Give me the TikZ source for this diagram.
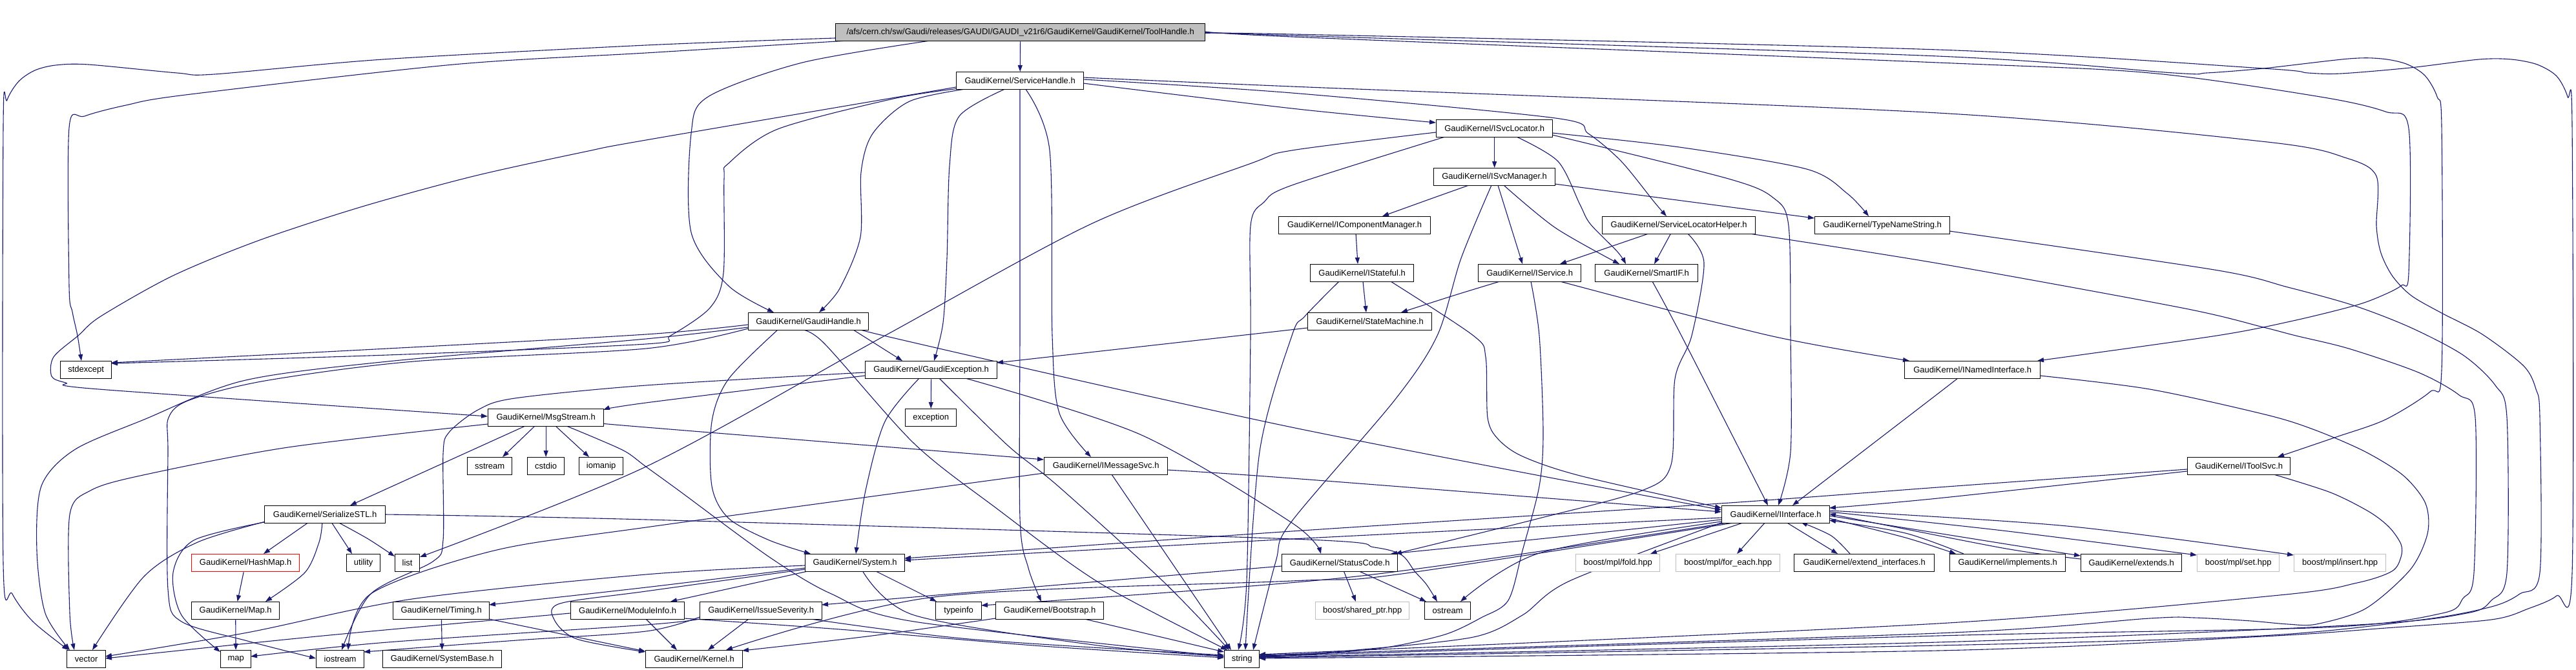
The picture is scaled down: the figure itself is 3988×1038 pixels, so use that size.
\documentclass[tikz,border=0pt]{standalone}
\usepackage{fontspec}
\setmainfont{Liberation Sans}
\usetikzlibrary{arrows.meta}
\definecolor{edgeblue}{RGB}{25,25,112}
\definecolor{rootgray}{RGB}{191,191,191}
\definecolor{boostgray}{RGB}{191,191,191}
\pgfdeclarelayer{bg}
\pgfdeclarelayer{edges}
\pgfsetlayers{bg,edges,main}
\begin{document}
\begin{tikzpicture}[x=1pt,y=-1pt,
  box/.style={draw=black, line width=1.3pt, fill=white, anchor=north west, minimum height=27pt, inner sep=0pt, font=\fontsize{13}{15}\selectfont, text=black},
  sysbox/.style={box, draw=boostgray},
  edge/.style={draw=edgeblue, line width=1.1pt, -{Triangle[length=10pt,width=7pt]}},
  sm/.style={smooth, tension=0.5}]
\begin{pgfonlayer}{bg}
\fill[white] (0,0) rectangle (3988,1038);
\end{pgfonlayer}
\useasboundingbox (0,0) rectangle (3988,1038);
% nodes
\node[box, fill=rootgray, minimum width=572pt] (root) at (1293,36) {/afs/cern.ch/sw/Gaudi/releases/GAUDI/GAUDI\_v21r6/GaudiKernel/GaudiKernel/ToolHandle.h};
\node[box, minimum width=197pt] (svch) at (1480,111) {GaudiKernel/ServiceHandle.h};
\node[box, minimum width=186pt] (gaudih) at (1158,484) {GaudiKernel/GaudiHandle.h};
\node[box, minimum width=180pt] (isvcloc) at (2223,185) {GaudiKernel/ISvcLocator.h};
\node[box, minimum width=188pt] (isvcman) at (2219,260) {GaudiKernel/ISvcManager.h};
\node[box, minimum width=235pt] (icompman) at (1979,335) {GaudiKernel/IComponentManager.h};
\node[box, minimum width=237pt] (slh) at (2480,335) {GaudiKernel/ServiceLocatorHelper.h};
\node[box, minimum width=209pt] (tns) at (2809,335) {GaudiKernel/TypeNameString.h};
\node[box, minimum width=160pt] (istateful) at (2028,409) {GaudiKernel/IStateful.h};
\node[box, minimum width=159pt] (iservice) at (2288,409) {GaudiKernel/IService.h};
\node[box, minimum width=159pt] (smartif) at (2469,409) {GaudiKernel/SmartIF.h};
\node[box, minimum width=192pt] (statemach) at (2024,484) {GaudiKernel/StateMachine.h};
\node[box, minimum width=79pt] (stdexcept) at (93,559) {stdexcept};
\node[box, minimum width=179pt] (msgstream) at (755,633) {GaudiKernel/MsgStream.h};
\node[box, minimum width=69pt] (sstream) at (723,708) {sstream};
\node[box, minimum width=57pt] (cstdio) at (816,708) {cstdio};
\node[box, minimum width=68pt] (iomanip) at (896,708) {iomanip};
\node[box, minimum width=187pt] (serial) at (409,783) {GaudiKernel/SerializeSTL.h};
\node[box, draw=red, minimum width=167pt] (hashmap) at (296,858) {GaudiKernel/HashMap.h};
\node[box, minimum width=52pt] (utility) at (536,858) {utility};
\node[box, minimum width=38pt] (list) at (611,858) {list};
\node[box, minimum width=136pt] (maph) at (296,932) {GaudiKernel/Map.h};
\node[box, minimum width=149pt] (timing) at (608,932) {GaudiKernel/Timing.h};
\node[box, minimum width=176pt] (modinfo) at (883,932) {GaudiKernel/ModuleInfo.h};
\node[box, minimum width=60pt] (vector) at (103,1007) {vector};
\node[box, minimum width=47pt] (map) at (341,1007) {map};
\node[box, minimum width=74pt] (iostream) at (489,1007) {iostream};
\node[box, minimum width=184pt] (sysbase) at (592,1007) {GaudiKernel/SystemBase.h};
\node[box, minimum width=204pt] (gexc) at (1339,559) {GaudiKernel/GaudiException.h};
\node[box, minimum width=79pt] (exception) at (1401,633) {exception};
\node[box, minimum width=191pt] (imsgsvc) at (1616,708) {GaudiKernel/IMessageSvc.h};
\node[box, minimum width=154pt] (system) at (1246,858) {GaudiKernel/System.h};
\node[box, minimum width=189pt] (issue) at (1083,932) {GaudiKernel/IssueSeverity.h};
\node[box, minimum width=71pt] (typeinfo) at (1448,932) {typeinfo};
\node[box, minimum width=167pt] (bootstrap) at (1541,932) {GaudiKernel/Bootstrap.h};
\node[box, minimum width=150pt] (kernel) at (999,1007) {GaudiKernel/Kernel.h};
\node[box, minimum width=54pt] (string) at (1895,1007) {string};
\node[box, minimum width=179pt] (statuscode) at (1984,858) {GaudiKernel/StatusCode.h};
\node[sysbox, minimum width=130pt] (fold) at (2439,858) {boost/mpl/fold.hpp};
\node[sysbox, minimum width=161pt] (foreach) at (2594,858) {boost/mpl/for\_each.hpp};
\node[box, minimum width=217pt] (extint) at (2777,858) {GaudiKernel/extend\_interfaces.h};
\node[sysbox, minimum width=145pt] (sharedptr) at (2036,932) {boost/shared\_ptr.hpp};
\node[box, minimum width=71pt] (ostream) at (2205,932) {ostream};
\node[box, minimum width=210pt] (inamed) at (2948,559) {GaudiKernel/INamedInterface.h};
\node[box, minimum width=167pt] (iinterface) at (2665,783) {GaudiKernel/IInterface.h};
\node[box, minimum width=159pt] (itoolsvc) at (3386,708) {GaudiKernel/IToolSvc.h};
\node[box, minimum width=179pt] (implements) at (3018,858) {GaudiKernel/implements.h};
\node[box, minimum width=156pt] (extends) at (3221,858) {GaudiKernel/extends.h};
\node[sysbox, minimum width=127pt] (mplset) at (3401,858) {boost/mpl/set.hpp};
\node[sysbox, minimum width=142pt] (mplinsert) at (3551,858) {boost/mpl/insert.hpp};

\begin{pgfonlayer}{edges}
% root
\draw[edge] (root) -- (svch);
\draw[edge] plot[sm] coordinates {([xshift=147pt,yshift=-27pt]root.north west) (1242,97) (1096,150) (1070,207) (1070,360) (1128,443) ([xshift=40pt,yshift=0pt]gaudih.north west)};
\draw[edge] plot[sm] coordinates {([xshift=0pt,yshift=-23pt]root.north west) (1000,70) (593,92) (332,115) (274,113) (137,100) (86,101) (54,109) (29,126) (11,155) (5,197) (5,873) (19,920) (51,963) ([xshift=3pt,yshift=0pt]vector.north west)};
\draw[edge] plot[sm] coordinates {([xshift=19pt,yshift=-27pt]root.north west) (1000,82) (702,100) (287,147) (195,163) (131,180) (107,198) (107,443) (112,483) (120,520) ([xshift=33pt,yshift=0pt]stdexcept.north west)};
\draw[edge] plot[sm] coordinates {([xshift=572pt,yshift=-16pt]root.north west) (2000,53) (3000,77) (3504,106) (3573,113) (3624,114) (3731,105) (3838,92) (3888,92) (3928,100) (3958,118) (3975,150) (3982,197) (3982,887) (3958,923) (3914,943) (3857,960) (3693,973) (3504,986) (3000,1008) ([xshift=54pt,yshift=-13pt]string.north west)};
\draw[edge] plot[sm] coordinates {([xshift=572pt,yshift=-14pt]root.north west) (2000,55) (3000,87) (3365,113) (3416,113) (3504,106) (3636,91) (3687,91) (3725,99) (3754,117) (3773,150) (3780,197) (3780,573) (3762,607) (3693,650) (3617,677) ([xshift=140pt,yshift=0pt]itoolsvc.north west)};
\draw[edge] plot[sm] coordinates {([xshift=572pt,yshift=-12pt]root.north west) (2000,57) (3000,97) (3328,113) (3592,150) (3693,173) (3729,199) (3729,423) (3718,442) (3690,457) (3647,473) (3550,497) (3432,520) ([xshift=206pt,yshift=0pt]inamed.north west)};
% ServiceHandle
\draw[edge] plot[sm] coordinates {([xshift=21pt,yshift=-26pt]svch.north west) (1408,157) (1351,207) (1333,267) (1332,367) (1300,447) ([xshift=110pt,yshift=0pt]gaudih.north west)};
\draw[edge] plot[sm] coordinates {([xshift=0pt,yshift=-24pt]svch.north west) (1000,217) (906,235) (733,273) (561,320) (402,372) (268,427) (156,490) (121,520) (83,553) (80,583) (102,593) (153,603) ([xshift=0pt,yshift=-12pt]msgstream.north west)};
\draw[edge] plot[sm] coordinates {([xshift=5pt,yshift=-26pt]svch.north west) (1383,153) (1204,200) (1128,253) (1121,277) (1120,423) (1099,477) (1038,520) (1000,533) (600,550) ([xshift=79pt,yshift=-4pt]stdexcept.north west)};
\draw[edge] plot[sm] coordinates {([xshift=78pt,yshift=-26pt]svch.north west) (1485,180) (1470,257) (1466,400) (1460,500) ([xshift=107pt,yshift=0pt]gexc.north west)};
\draw[edge] plot[sm] coordinates {([xshift=99pt,yshift=-26pt]svch.north west) (1579,500) (1579,803) (1592,880) ([xshift=71pt,yshift=0pt]bootstrap.north west)};
\draw[edge] plot[sm] coordinates {([xshift=107pt,yshift=-26pt]svch.north west) (1625,233) (1629,520) (1640,640) ([xshift=73pt,yshift=0pt]imsgsvc.north west)};
\draw[edge] plot[sm] coordinates {([xshift=197pt,yshift=-18pt]svch.north west) (2000,168) ([xshift=0pt,yshift=-5pt]isvcloc.north west)};
\draw[edge] plot[sm] coordinates {([xshift=197pt,yshift=-12pt]svch.north west) (2000,144) (2408,183) (2459,207) (2510,250) (2561,313) ([xshift=100pt,yshift=0pt]slh.north west)};
\draw[edge] plot[sm] coordinates {([xshift=197pt,yshift=-9pt]svch.north west) (2000,134) (3000,175) (3510,220) (3633,245) (3679,273) (3679,350) (3686,392) (3704,428) (3733,458) (3780,485) (3843,518) (3907,567) (3926,603) (3932,647) (3932,887) (3901,920) (3857,940) (3750,960) (3500,985) (3000,1000) ([xshift=54pt,yshift=-12pt]string.north west)};
% GaudiHandle
\draw[edge] plot[sm] coordinates {([xshift=0pt,yshift=-19pt]gaudih.north west) (1000,518) (600,540) ([xshift=79pt,yshift=-3pt]stdexcept.north west)};
\draw[edge] plot[sm] coordinates {([xshift=0pt,yshift=-23pt]gaudih.north west) (1000,525) (600,560) (376,590) (223,650) (115,697) (64,753) (57,853) (70,950) ([xshift=5pt,yshift=0pt]vector.north west)};
\draw[edge] plot[sm] coordinates {([xshift=0pt,yshift=-25pt]gaudih.north west) (1000,540) (640,560) (410,590) (293,620) (261,647) (260,700) (260,913) (281,963) (383,993) ([xshift=0pt,yshift=-13pt]iostream.north west)};
\draw[edge] plot[sm] coordinates {([xshift=46pt,yshift=-27pt]gaudih.north west) (1128,587) (1102,653) (1102,753) (1128,803) (1191,837) ([xshift=9pt,yshift=0pt]system.north west)};
\draw[edge] plot[sm] coordinates {([xshift=77pt,yshift=-27pt]gaudih.north west) (1274,530) (1415,687) (1542,787) (1702,903) ([xshift=5pt,yshift=0pt]string.north west)};
\draw[edge] ([xshift=163pt,yshift=-27pt]gaudih.north west) -- ([xshift=58pt,yshift=0pt]gexc.north west);
\draw[edge] plot[sm] coordinates {([xshift=186pt,yshift=-24pt]gaudih.north west) (1368,520) (2000,662) ([xshift=0pt,yshift=-7pt]iinterface.north west)};
% ISvcLocator
\draw[edge] (isvcloc) -- (isvcman);
\draw[edge] plot[sm] coordinates {([xshift=180pt,yshift=-21pt]isvcloc.north west) (2600,228) (2797,262) (2860,300) ([xshift=84pt,yshift=0pt]tns.north west)};
\draw[edge] plot[sm] coordinates {([xshift=125pt,yshift=-27pt]isvcloc.north west) (2412,250) (2446,317) (2462,347) (2504,390) ([xshift=48pt,yshift=0pt]smartif.north west)};
\draw[edge] plot[sm] coordinates {([xshift=180pt,yshift=-24pt]isvcloc.north west) (2676,277) (2746,307) (2769,350) (2772,520) (2772,700) ([xshift=88pt,yshift=0pt]iinterface.north west)};
\draw[edge] plot[sm] coordinates {([xshift=0pt,yshift=-20pt]isvcloc.north west) (2000,233) (1937,253) (1689,347) (1370,520) (1000,723) ([xshift=39pt,yshift=-5pt]list.north west)};
\draw[edge] plot[sm] coordinates {([xshift=14pt,yshift=-27pt]isvcloc.north west) (2000,287) (1957,313) (1936,350) (1936,520) (1930,900) ([xshift=22pt,yshift=0pt]string.north west)};
% ISvcManager
\draw[edge] plot[sm] coordinates {([xshift=55pt,yshift=-27pt]isvcman.north west) (2215,308) ([xshift=161pt,yshift=0pt]icompman.north west)};
\draw[edge] plot[sm] coordinates {([xshift=90pt,yshift=-27pt]isvcman.north west) (2262,400) (2225,520) (2159,620) (1998,810) (1975,870) ([xshift=45pt,yshift=0pt]string.north west)};
\draw[edge] ([xshift=100pt,yshift=-27pt]isvcman.north west) -- ([xshift=69pt,yshift=0pt]iservice.north west);
\draw[edge] plot[sm] coordinates {([xshift=109pt,yshift=-27pt]isvcman.north west) (2408,353) ([xshift=38pt,yshift=0pt]smartif.north west)};
\draw[edge] ([xshift=188pt,yshift=-25pt]isvcman.north west) -- ([xshift=0pt,yshift=-3pt]tns.north west);
% IComponentManager, IStateful
\draw[edge] ([xshift=120pt,yshift=-26pt]icompman.north west) -- ([xshift=74pt,yshift=0pt]istateful.north west);
\draw[edge] ([xshift=82pt,yshift=-27pt]istateful.north west) -- ([xshift=91pt,yshift=0pt]statemach.north west);
\draw[edge] plot[sm] coordinates {([xshift=125pt,yshift=-27pt]istateful.north west) (2281,520) (2300,553) (2303,647) (2319,680) (2357,707) (2446,737) ([xshift=0pt,yshift=-4pt]iinterface.north west)};
\draw[edge] plot[sm] coordinates {([xshift=45pt,yshift=-27pt]istateful.north west) (2020,490) (2000,520) (1950,700) ([xshift=33pt,yshift=0pt]string.north west)};
% ServiceLocatorHelper
\draw[edge] ([xshift=75pt,yshift=-26pt]slh.north west) -- ([xshift=127pt,yshift=0pt]iservice.north west);
\draw[edge] ([xshift=107pt,yshift=-26pt]slh.north west) -- ([xshift=92pt,yshift=0pt]smartif.north west);
\draw[edge] plot[sm] coordinates {([xshift=132pt,yshift=-26pt]slh.north west) (2638,407) (2619,520) (2593,587) (2587,720) (2542,760) (2383,803) ([xshift=176pt,yshift=0pt]statuscode.north west)};
\draw[edge] plot[sm] coordinates {([xshift=222pt,yshift=-26pt]slh.north west) (3000,408) (3378,477) (3504,507) (3554,520) (3636,540) (3744,577) (3807,612) (3832,647) (3830,887) (3813,927) (3781,950) (3600,972) (3000,985) ([xshift=54pt,yshift=-10pt]string.north west)};
% TypeNameString
\draw[edge] plot[sm] coordinates {([xshift=209pt,yshift=-23pt]tns.north west) (3428,418) (3542,445) (3643,473) (3731,507) (3813,550) (3863,597) (3881,647) (3881,887) (3857,930) (3819,950) (3650,968) (3000,995) ([xshift=54pt,yshift=-11pt]string.north west)};
% IService
\draw[edge] plot[sm] coordinates {([xshift=34pt,yshift=-27pt]iservice.north west) (2250,458) ([xshift=145pt,yshift=0pt]statemach.north west)};
\draw[edge] plot[sm] coordinates {([xshift=82pt,yshift=-27pt]iservice.north west) (2383,520) (2389,670) (2383,753) (2357,853) (2335,930) (2293,957) (2237,983) (2146,1003) (2040,1013) ([xshift=54pt,yshift=-9pt]string.north west)};
\draw[edge] plot[sm] coordinates {([xshift=127pt,yshift=-27pt]iservice.north west) (2740,520) ([xshift=8pt,yshift=0pt]inamed.north west)};
% SmartIF, StateMachine
\draw[edge] plot[sm] coordinates {([xshift=89pt,yshift=-27pt]smartif.north west) (2603,520) ([xshift=72pt,yshift=0pt]iinterface.north west)};
\draw[edge] plot[sm] coordinates {([xshift=0pt,yshift=-24pt]statemach.north west) (1918,520) ([xshift=204pt,yshift=-3pt]gexc.north west)};
% INamedInterface
\draw[edge] plot[sm] coordinates {([xshift=84pt,yshift=-26pt]inamed.north west) (3000,610) ([xshift=110pt,yshift=0pt]iinterface.north west)};
\draw[edge] plot[sm] coordinates {([xshift=210pt,yshift=-23pt]inamed.north west) (3328,603) (3510,643) (3586,667) (3662,700) (3721,737) (3755,780) (3758,827) (3731,883) (3662,943) (3586,967) (3542,967) (3485,962) (3397,957) (3328,958) (3000,981) ([xshift=54pt,yshift=-8pt]string.north west)};
% IToolSvc
\draw[edge] plot[sm] coordinates {([xshift=0pt,yshift=-22pt]itoolsvc.north west) (3000,772) ([xshift=167pt,yshift=-4pt]iinterface.north west)};
\draw[edge] plot[sm] coordinates {([xshift=0pt,yshift=-19pt]itoolsvc.north west) (3000,755) (2663,780) (2000,823) ([xshift=154pt,yshift=-7pt]system.north west)};
\draw[edge] plot[sm] coordinates {([xshift=134pt,yshift=-27pt]itoolsvc.north west) (3608,763) (3668,793) (3699,817) (3717,843) (3717,863) (3703,885) (3649,903) (3529,922) (3000,966) ([xshift=54pt,yshift=-7pt]string.north west)};
% IInterface
\draw[edge] ([xshift=100pt,yshift=-26pt]iinterface.north west) -- ([xshift=68pt,yshift=0pt]extint.north west);
\draw[edge] plot[sm] coordinates {([xshift=87pt,yshift=0pt]extint.north west) (2835,830) ([xshift=123pt,yshift=-26pt]iinterface.north west)};
\draw[edge] plot[sm] coordinates {([xshift=167pt,yshift=-20pt]iinterface.north west) (2950,833) ([xshift=10pt,yshift=0pt]implements.north west)};
\draw[edge] plot[sm] coordinates {([xshift=22pt,yshift=0pt]implements.north west) (2950,826) ([xshift=167pt,yshift=-23pt]iinterface.north west)};
\draw[edge] plot[sm] coordinates {([xshift=167pt,yshift=-16pt]iinterface.north west) (3100,842) ([xshift=0pt,yshift=-3pt]extends.north west)};
\draw[edge] plot[sm] coordinates {([xshift=0pt,yshift=-8pt]extends.north west) (3100,849) ([xshift=167pt,yshift=-13pt]iinterface.north west)};
\draw[edge] plot[sm] coordinates {([xshift=167pt,yshift=-10pt]iinterface.north west) (3100,822) ([xshift=0pt,yshift=-2pt]mplset.north west)};
\draw[edge] plot[sm] coordinates {([xshift=167pt,yshift=-8pt]iinterface.north west) (3200,815) ([xshift=0pt,yshift=-2pt]mplinsert.north west)};
\draw[edge] ([xshift=36pt,yshift=-26pt]iinterface.north west) -- ([xshift=116pt,yshift=0pt]fold.north west);
\draw[edge] ([xshift=68pt,yshift=-26pt]iinterface.north west) -- ([xshift=95pt,yshift=0pt]foreach.north west);
\draw[edge] plot[sm] coordinates {([xshift=0pt,yshift=-22pt]iinterface.north west) (2383,835) ([xshift=169pt,yshift=0pt]statuscode.north west)};
\draw[edge] plot[sm] coordinates {([xshift=0pt,yshift=-25pt]iinterface.north west) (2383,857) ([xshift=56pt,yshift=0pt]ostream.north west)};
\draw[edge] plot[sm] coordinates {([xshift=0pt,yshift=-19pt]iinterface.north west) (2000,835) ([xshift=154pt,yshift=-10pt]system.north west)};
\draw[edge] plot[sm] coordinates {([xshift=15pt,yshift=-26pt]iinterface.north west) (2100,893) ([xshift=71pt,yshift=-6pt]typeinfo.north west)};
\draw[edge] plot[sm] coordinates {([xshift=25pt,yshift=-26pt]iinterface.north west) (2163,890) (2000,900) (1446,925) ([xshift=125pt,yshift=0pt]kernel.north west)};
\draw[edge] plot[sm] coordinates {([xshift=2pt,yshift=-26pt]iinterface.north west) (2430,900) (2357,953) (2281,987) (2100,1007) ([xshift=54pt,yshift=-11pt]string.north west)};
% GaudiException
\draw[edge] (gexc) -- (exception);
\draw[edge] plot[sm] coordinates {([xshift=0pt,yshift=-23pt]gexc.north west) (1000,624) ([xshift=179pt,yshift=-2pt]msgstream.north west)};
\draw[edge] plot[sm] coordinates {([xshift=0pt,yshift=-18pt]gexc.north west) (1000,597) (797,617) (740,635) (695,670) (686,703) (686,837) (670,870) (574,920) ([xshift=40pt,yshift=0pt]iostream.north west)};
\draw[edge] plot[sm] coordinates {([xshift=85pt,yshift=-26pt]gexc.north west) (1370,653) (1340,760) ([xshift=79pt,yshift=0pt]system.north west)};
\draw[edge] plot[sm] coordinates {([xshift=114pt,yshift=-26pt]gexc.north west) (1560,690) (1638,753) (1800,900) ([xshift=8pt,yshift=0pt]string.north west)};
\draw[edge] plot[sm] coordinates {([xshift=152pt,yshift=-26pt]gexc.north west) (1765,673) (2000,810) ([xshift=61pt,yshift=0pt]statuscode.north west)};
% MsgStream
\draw[edge] plot[sm] coordinates {([xshift=179pt,yshift=-23pt]msgstream.north west) (1000,662) ([xshift=0pt,yshift=-4pt]imsgsvc.north west)};
\draw[edge] ([xshift=58pt,yshift=-27pt]msgstream.north west) -- ([xshift=133pt,yshift=0pt]serial.north west);
\draw[edge] ([xshift=73pt,yshift=-27pt]msgstream.north west) -- ([xshift=55pt,yshift=0pt]sstream.north west);
\draw[edge] (msgstream) -- (cstdio);
\draw[edge] ([xshift=105pt,yshift=-27pt]msgstream.north west) -- ([xshift=16pt,yshift=0pt]iomanip.north west);
\draw[edge] plot[sm] coordinates {([xshift=0pt,yshift=-24pt]msgstream.north west) (446,693) (217,737) (140,760) (108,797) (108,950) ([xshift=12pt,yshift=0pt]vector.north west)};
\draw[edge] plot[sm] coordinates {([xshift=122pt,yshift=-27pt]msgstream.north west) (925,680) (969,700) (1000,723) (1051,760) (1191,863) (1287,920) (1415,963) ([xshift=0pt,yshift=-10pt]string.north west)};
% SerializeSTL
\draw[edge] ([xshift=69pt,yshift=-26pt]serial.north west) -- ([xshift=112pt,yshift=0pt]hashmap.north west);
\draw[edge] ([xshift=104pt,yshift=-26pt]serial.north west) -- ([xshift=9pt,yshift=0pt]utility.north west);
\draw[edge] plot[sm] coordinates {([xshift=114pt,yshift=-26pt]serial.north west) (570,835) ([xshift=0pt,yshift=-4pt]list.north west)};
\draw[edge] plot[sm] coordinates {([xshift=90pt,yshift=-26pt]serial.north west) (494,840) (472,887) ([xshift=115pt,yshift=0pt]maph.north west)};
\draw[edge] plot[sm] coordinates {([xshift=2pt,yshift=-25pt]serial.north west) (306,840) (223,893) ([xshift=40pt,yshift=0pt]vector.north west)};
\draw[edge] plot[sm] coordinates {([xshift=0pt,yshift=-26pt]serial.north west) (300,837) (268,887) (281,953) ([xshift=0pt,yshift=-3pt]map.north west)};
\draw[edge] plot[sm] coordinates {([xshift=187pt,yshift=-14pt]serial.north west) (1000,805) (2000,835) (2128,848) (2170,860) (2190,885) (2208,905) ([xshift=20pt,yshift=0pt]ostream.north west)};
% StatusCode
\draw[edge] ([xshift=0pt,yshift=-19pt]statuscode.north west) -- ([xshift=189pt,yshift=-5pt]issue.north west);
\draw[edge] ([xshift=96pt,yshift=-26pt]statuscode.north west) -- ([xshift=63pt,yshift=0pt]sharedptr.north west);
\draw[edge] ([xshift=118pt,yshift=-26pt]statuscode.north west) -- ([xshift=3pt,yshift=0pt]ostream.north west);
% System
\draw[edge] ([xshift=108pt,yshift=-26pt]system.north west) -- ([xshift=2pt,yshift=0pt]typeinfo.north west);
\draw[edge] plot[sm] coordinates {([xshift=89pt,yshift=-26pt]system.north west) (1415,953) (1700,1000) ([xshift=0pt,yshift=-10pt]string.north west)};
\draw[edge] ([xshift=9pt,yshift=-26pt]system.north west) -- ([xshift=155pt,yshift=0pt]modinfo.north west);
\draw[edge] plot[sm] coordinates {([xshift=0pt,yshift=-18pt]system.north west) (1000,890) (638,928) (383,980) ([xshift=60pt,yshift=-10pt]vector.north west)};
\draw[edge] plot[sm] coordinates {([xshift=0pt,yshift=-22pt]system.north west) (1000,910) ([xshift=149pt,yshift=-5pt]timing.north west)};
\draw[edge] plot[sm] coordinates {([xshift=0pt,yshift=-24pt]system.north west) (1000,916) (867,935) (858,960) (893,990) ([xshift=0pt,yshift=-3pt]kernel.north west)};
% ModuleInfo, IssueSeverity, Timing, Bootstrap
\draw[edge] ([xshift=117pt,yshift=-27pt]modinfo.north west) -- ([xshift=49pt,yshift=0pt]kernel.north west);
\draw[edge] plot[sm] coordinates {([xshift=176pt,yshift=-26pt]modinfo.north west) (1300,975) (1600,1000) ([xshift=0pt,yshift=-12pt]string.north west)};
\draw[edge] plot[sm] coordinates {([xshift=0pt,yshift=-18pt]modinfo.north west) (500,985) ([xshift=60pt,yshift=-13pt]vector.north west)};
\draw[edge] ([xshift=76pt,yshift=-27pt]issue.north west) -- ([xshift=97pt,yshift=0pt]kernel.north west);
\draw[edge] plot[sm] coordinates {([xshift=172pt,yshift=-27pt]issue.north west) (1500,990) ([xshift=0pt,yshift=-8pt]string.north west)};
\draw[edge] plot[sm] coordinates {([xshift=0pt,yshift=-27pt]issue.north west) (1000,968) (600,995) ([xshift=47pt,yshift=-10pt]map.north west)};
\draw[edge] plot[sm] coordinates {([xshift=0pt,yshift=-24pt]issue.north west) (1000,978) (800,992) ([xshift=74pt,yshift=-3pt]iostream.north west)};
\draw[edge] (timing) -- (sysbase);
\draw[edge] ([xshift=149pt,yshift=-27pt]timing.north west) -- ([xshift=0pt,yshift=-2pt]kernel.north west);
\draw[edge] plot[sm] coordinates {([xshift=0pt,yshift=-26pt]bootstrap.north west) (1350,985) ([xshift=150pt,yshift=-1pt]kernel.north west)};
\draw[edge] ([xshift=138pt,yshift=-27pt]bootstrap.north west) -- ([xshift=0pt,yshift=-3pt]string.north west);
% IMessageSvc
\draw[edge] plot[sm] coordinates {([xshift=191pt,yshift=-20pt]imsgsvc.north west) (2000,741) ([xshift=0pt,yshift=-10pt]iinterface.north west)};
\draw[edge] ([xshift=105pt,yshift=-27pt]imsgsvc.north west) -- ([xshift=11pt,yshift=0pt]string.north west);
\draw[edge] plot[sm] coordinates {([xshift=0pt,yshift=-25pt]imsgsvc.north west) (1000,817) (765,853) (574,920) ([xshift=50pt,yshift=0pt]iostream.north west)};
% HashMap, Map
\draw[edge] (hashmap) -- (maph);
\draw[edge] (maph) -- (map);
\end{pgfonlayer}
\end{tikzpicture}
\end{document}
